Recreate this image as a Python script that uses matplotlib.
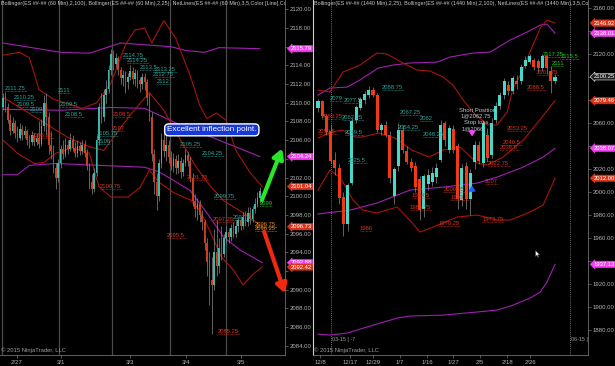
import matplotlib
matplotlib.use("Agg")
import matplotlib.pyplot as plt
import matplotlib.transforms as mtransforms
from matplotlib.ticker import FixedFormatter

plt.rcParams['font.family'] = ['Liberation Sans', 'DejaVu Sans']

# ---------------- 60 min chart (left) ----------------
l_first_open = 2109.5
l_close = [2110.5, 2109.5, 2108.2, 2107, 2107.8, 2106.8, 2106.2, 2107.2, 2106.5, 2107,
           2106, 2105.8, 2106.5, 2105.8, 2106.2, 2105.6, 2107.5, 2110, 2108.5, 2105.5,
           2104.8, 2103, 2102, 2103.5, 2105, 2104.5, 2105.5, 2105, 2106, 2105.2,
           2104.6, 2105.4, 2104.8, 2105.5, 2104.6, 2103.2, 2101.5, 2100.8, 2102.5, 2106,
           2109.5, 2108.5, 2110.8, 2111.5, 2113.5, 2115.2, 2114.2, 2114.8, 2113.5, 2112.6,
           2113, 2112.2, 2112.8, 2113.4, 2112.5, 2113.2, 2112.4, 2112, 2112.8, 2112.2,
           2110.5, 2108.5, 2104.5, 2101.5, 2100, 2103.5, 2106, 2104.8, 2105.5, 2104.2,
           2103.2, 2104, 2103, 2103.8, 2102.6, 2103.6, 2104.4, 2103.8, 2102, 2099.5,
           2098.6, 2099.2, 2098, 2097.2, 2095, 2093, 2091, 2090.5, 2094, 2092.5,
           2094.5, 2093.8, 2095.5, 2096.2, 2095.6, 2096.6, 2096, 2096.8, 2097.4, 2096.8,
           2097.8, 2097.2, 2098.2, 2097.6, 2098.6, 2099.2, 2099.8, 2100.6]
l_high = [2111, 2111.2, 2110, 2108.8, 2108.5, 2108.2, 2107.5, 2107.8, 2107.6, 2107.5,
          2107.2, 2106.5, 2107, 2106.8, 2106.8, 2108, 2108.3, 2110.8, 2111, 2109,
          2107, 2105.5, 2103.5, 2104, 2105.5, 2106, 2106.2, 2106, 2106.8, 2106.5,
          2105.8, 2106, 2105.8, 2106, 2106, 2105, 2103.6, 2102.4, 2103, 2106.5,
          2110, 2111, 2111.5, 2112.4, 2114, 2115.8, 2115.6, 2115.3, 2115, 2113.8,
          2113.5, 2113.4, 2113.2, 2114, 2113.8, 2113.6, 2113.5, 2112.8, 2113.2, 2113.2,
          2112.5, 2111, 2109, 2105, 2102.5, 2104, 2106.8, 2107.5, 2106.5, 2106,
          2104.8, 2104.6, 2104.4, 2104.5, 2104.2, 2104, 2105, 2104.8, 2104.2, 2102.5,
          2100.2, 2099.8, 2099.6, 2098.5, 2097.6, 2095.5, 2094, 2093.5, 2096.5, 2097.5,
          2095.5, 2096.8, 2096, 2096.8, 2096.6, 2097, 2097.2, 2097.4, 2097.8, 2097.8,
          2098.3, 2098.4, 2098.8, 2098.8, 2099, 2099.8, 2100.4, 2101]
l_low = [2109.2, 2109, 2107.8, 2106.5, 2106.8, 2106.2, 2105.8, 2106, 2106, 2106.2,
         2105.5, 2105.2, 2105.5, 2105.4, 2105.5, 2105.2, 2105.4, 2107, 2106.5, 2104.5,
         2104, 2102.5, 2100.8, 2101.5, 2103, 2104, 2104.2, 2104.5, 2104.8, 2104.8,
         2104.2, 2104.2, 2104.4, 2104.5, 2104.2, 2102.8, 2100.8, 2100.2, 2100.4, 2102.2,
         2105.5, 2107.8, 2108, 2110, 2111, 2113, 2113.5, 2113.8, 2113, 2112,
         2111.8, 2111, 2111.5, 2112.4, 2112, 2111.8, 2111.6, 2111.2, 2111.5, 2111.4,
         2109.8, 2108, 2103.8, 2100.2, 2098.5, 2099.5, 2103, 2104.2, 2103.8, 2103.5,
         2102.8, 2102.6, 2102.4, 2102.5, 2102, 2102.2, 2103.2, 2103.2, 2101.5, 2099,
         2097.8, 2097.5, 2097.2, 2096.4, 2094.2, 2091.5, 2088.4, 2085.3, 2090, 2091.5,
         2091.8, 2093.2, 2093.5, 2095, 2095, 2095.2, 2095.6, 2095.6, 2096.2, 2096.4,
         2096.5, 2096.8, 2096.8, 2097, 2097.2, 2098.2, 2098.8, 2099.3]

# Bollinger (2,100) - purple, knots as (bar index, price)
l_bb100_up_x = [0, 24, 36, 49, 70, 76, 84, 90, 107]
l_bb100_up_y = [2116.4, 2115.4, 2115.3, 2116.4, 2116.0, 2115.6, 2115.4, 2115.9, 2115.79]
l_bb100_mid_x = [0, 24, 45, 59, 74, 88, 107]
l_bb100_mid_y = [2109.3, 2109.2, 2109.5, 2109.4, 2107.6, 2106.2, 2104.24]
l_bb100_lo_x = [0, 6, 11, 22, 40, 59, 65, 71, 78, 85, 92, 99, 108]
l_bb100_lo_y = [2102.3, 2102.3, 2103.3, 2103.5, 2103.3, 2103.1, 2102.6, 2101.7, 2100.6,
                2098.2, 2095.6, 2094.2, 2092.9]
# Bollinger (2,25) - dark red
l_bb25_up_x = [0, 7, 11, 15, 21, 33, 39, 45, 51, 55, 59, 62, 67, 72, 78, 82, 85, 89, 93, 97, 103, 108]
l_bb25_up_y = [2115.1, 2115.4, 2114.8, 2111.4, 2110.4, 2109.4, 2110.0, 2112.1, 2116.2, 2117.8,
               2118.0, 2116.4, 2118.8, 2116.9, 2112.9, 2109.7, 2108.3, 2108.9, 2108.1, 2104.9,
               2102.5, 2101.04]
l_bb25_mid_x = [0, 7, 15, 27, 36, 42, 53, 61, 67, 74, 80, 86, 92, 99, 108]
l_bb25_mid_y = [2110.6, 2109.5, 2108.2, 2106.3, 2105.3, 2104.9, 2108.7, 2111.1, 2109.2,
                2106.0, 2103.3, 2101.2, 2099.5, 2098.4, 2096.73]
l_bb25_lo_x = [0, 6, 13, 17, 22, 29, 36, 40, 45, 52, 57, 61, 65, 71, 78, 82, 86, 91, 96, 100, 104, 108]
l_bb25_lo_y = [2106.0, 2104.6, 2103.5, 2103.6, 2104.6, 2105.2, 2104.6, 2101.0, 2099.9, 2099.9,
               2100.9, 2102.8, 2101.5, 2100.4, 2099.6, 2098.5, 2096.4, 2093.5, 2092.1, 2090.5,
               2091.6, 2092.42]

l_session_breaks = [-0.3, 23.5, 45.5, 69.5, 93]
l_date_pos = [5.8, 24.2, 52.9, 76.2, 99.2]
l_date_lbl = ['2/27', '3/1', '3/3', '3/4', '3/5']

# NetLines labels: (bar index, price, text, colour key)
l_lines = [(0.8, 2111.25, '2111.25', 't'), (4.6, 2110.25, '2110.25', 't'), (5.8, 2109.5, '2109.5', 't'),
           (11.2, 2109, '2109', 't'), (22.9, 2111, '2111', 't'), (23.8, 2109.5, '2109.5', 't'),
           (25.8, 2108.5, '2108.5', 't'), (50.0, 2114.75, '2114.75', 't'), (51.7, 2114.25, '2114.25', 't'),
           (57.0, 2113.5, '2113.5', 't'), (63.3, 2113.25, '2113.25', 't'), (62.5, 2112.75, '2112.75', 't'),
           (64.0, 2112, '2112', 't'), (39.0, 2106.4, '2105.75', 't'), (39.6, 2105.6, '2106', 't'),
           (73.8, 2105.25, '2105.25', 't'), (83.0, 2104.25, '2104.25', 't'), (88.0, 2099.75, '2099.75', 't'),
           (95.8, 2097.5, '2097.5', 't'),
           (45.8, 2108.5, '2108.5', 'r'), (45.4, 2107, '2107', 'r'), (12.0, 2106.25, '2106.25', 'r'),
           (76.7, 2101.75, '2101.75', 'r'), (40.4, 2100.75, '2100.75', 'r'), (87.5, 2097.25, '2097.25', 'r'),
           (68.3, 2095.5, '2095.5', 'r'), (89.6, 2085.25, '2085.25', 'r'),
           (105.0, 2096.75, '2096.75', 'o'), (105.0, 2096.25, '2096.25', 'o'), (107.0, 2099, '2099', 'g')]
l_tags = [('2115.79', 2115.79, 'm'), ('2104.24', 2104.24, 'm'), ('2101.04', 2101.04, 'r'),
          ('2096.73', 2096.73, 'r'), ('2092.88', 2092.88, 'm'), ('2092.42', 2092.42, 'r')]

# ---------------- daily chart (right) ----------------
r_open = [2073, 2079, 2066, 2053, 2028, 2021, 1996, 1972, 2008, 2063, 2073, 2080, 2084, 2089,
          2084, 2054, 2058, 2050, 1997, 2023, 2054, 2036, 2026, 2023, 2011, 1985, 2007, 2009,
          2013, 2028, 2060, 2037, 2055, 2040, 1993, 2023, 1994, 2026, 2041, 2025, 2050, 2032,
          2063, 2075, 2084, 2093, 2088, 2097, 2097, 2110, 2113, 2115, 2114, 2108, 2118, 2105, 2097]
r_high = [2081, 2080, 2068, 2058, 2035, 2024, 2000, 2008, 2064, 2076, 2083, 2088, 2092, 2091,
          2086, 2060, 2062, 2053, 2022, 2060, 2058, 2040, 2030, 2026, 2014, 2016, 2020, 2022,
          2025, 2063, 2062, 2058, 2058, 2043, 2024, 2026, 2020, 2044, 2044, 2063, 2056, 2064,
          2078, 2087, 2099, 2097, 2101, 2102, 2111, 2118, 2120, 2117, 2116, 2120, 2119, 2110, 2103]
r_low = [2070, 2064, 2050, 2025, 2015, 1990, 1962, 1966, 2006, 2060, 2071, 2077, 2082, 2083,
         2052, 2050, 2048, 2008, 1990, 2018, 2034, 2024, 2018, 2000, 1976, 1978, 2002, 2005,
         2008, 2026, 2040, 2034, 2034, 1985, 1988, 1985, 1980, 2020, 2024, 2022, 2026, 2030,
         2060, 2072, 2081, 2084, 2085, 2090, 2094, 2108, 2111, 2106, 2104, 2105, 2103, 2086, 2094]
r_close = [2079, 2066, 2052, 2027, 2021, 1995, 1972, 2006, 2062, 2074, 2081, 2085, 2089, 2084,
           2054, 2058, 2050, 2012, 2020, 2054, 2037, 2026, 2021, 2004, 1984, 2014, 2015, 2017,
           2021, 2058, 2045, 2056, 2037, 1994, 2021, 1994, 2017, 2041, 2027, 2060, 2030, 2060,
           2075, 2084, 2097, 2088, 2099, 2094, 2109, 2115, 2118, 2109, 2108, 2118, 2108, 2097, 2100.25]

r_bb100_up_x = [0, 2.8, 6.9, 9.9, 14.2, 17.7, 21.7, 28.1, 31.2, 36.6, 40.7, 45.4, 49.4, 52.5, 54.1, 56]
r_bb100_up_y = [2084.3, 2090.4, 2091.3, 2097.4, 2107.8, 2110.4, 2112.2, 2113.0, 2117.4, 2120.9,
                2121.7, 2132.2, 2139.1, 2145.2, 2146.1, 2138.01]
r_bb100_mid_x = [0, 7.6, 13.9, 21.7, 29.6, 37.6, 42.3, 48.5, 53.2, 56]
r_bb100_mid_y = [1980.9, 1984.3, 1990.4, 2001.7, 2004.3, 2007.8, 2013.0, 2021.7, 2030.4, 2038.07]
r_bb100_lo_x = [0, 2.8, 6.9, 13, 18.7, 21.7, 29.6, 37.6, 42.3, 46.1, 50.1, 52.5, 54.1, 56]
r_bb100_lo_y = [1876.5, 1875.7, 1877.4, 1884.3, 1890.4, 1892.2, 1893.0, 1895.7, 1897.4, 1901.7,
                1907.8, 1913.0, 1921.7, 1937.13]
r_bb25_up_x = [0, 2.8, 5.9, 9.9, 13.9, 16.3, 20.1, 23.4, 26.5, 29.6, 31.9, 34.3, 36.6, 40, 42.3,
               44.7, 46.1, 47.8, 50.1, 52.5, 54.1, 56]
r_bb25_up_y = [2088.7, 2087.0, 2104.3, 2110.4, 2120.9, 2120.0, 2112.2, 2106.1, 2105.2, 2100.0,
               2093.0, 2080.0, 2069.6, 2058.3, 2058.3, 2069.6, 2090.4, 2101.7, 2121.7, 2142.6,
               2149.6, 2146.92]
r_bb25_mid_x = [0, 3.3, 5.7, 8.7, 10.4, 14.4, 18.2, 22.2, 26.2, 29.6, 33.6, 37.6, 40, 43.7, 48.5, 51.8, 56]
r_bb25_mid_y = [2047.0, 2052.2, 2053.9, 2047.8, 2047.8, 2051.3, 2047.0, 2036.5, 2030.4, 2036.5,
                2039.1, 2025.2, 2023.5, 2030.4, 2045.2, 2060.0, 2079.46]
r_bb25_lo_x = [0, 2.8, 5.2, 8.3, 10.6, 13.9, 18.7, 21, 24.1, 27.2, 32.9, 37.6, 42.3, 45.4, 50.1,
               53.2, 56]
r_bb25_lo_y = [2001.7, 2019.0, 2013.0, 1993.0, 1984.3, 1981.7, 1987.0, 1978.3, 1965.2, 1969.6,
               1978.3, 1980.0, 1975.7, 1975.7, 1982.6, 1988.7, 2012.0]

r_rollover = [3.1, 59.6]
r_rollover_lbl = ['03-15 | -7', '06-15 |']
r_date_pos = [0.5, 7.6, 13.0, 19.4, 25.8, 31.9, 38.3, 44.7, 50.1]
r_date_lbl = ['12/8', '12/17', '12/29', '1/7', '1/16', '1/27', '2/5', '2/18', '2/26']

r_lines = [(15.1, 2088.75, '2088.75', 't'), (2.8, 2079, '2079', 't'), (6.0, 2077.5, '2077.5', 't'),
           (5.7, 2062.25, '2062.25', 't'), (19.4, 2067.25, '2067.25', 't'), (24.1, 2062, '2062', 't'),
           (18.9, 2054.25, '2054.25', 't'), (24.8, 2048.25, '2048.25', 't'), (6.4, 2049.5, '2049.5', 't'),
           (7.1, 2025.5, '2025.5', 't'),
           (0.9, 2063.25, '2063.25', 'r'), (0.0, 2050.5, '2050.5', 'r'), (44.7, 2053.25, '2053.25', 'r'),
           (43.7, 2040.5, '2040.5', 'r'), (43.0, 2037.0, '2038.5', 'r'), (40.2, 2022.75, '2022.75', 'r'),
           (39.5, 2007, '2007', 'r'), (22.2, 1994.5, '1994.5', 'r'), (21.7, 1984.75, '1984.75', 'r'),
           (9.9, 1966, '1966', 'r'), (28.4, 1970.25, '1970.25', 'r'), (38.8, 1973.75, '1973.75', 'r'),
           (29.6, 2000.25, '2000.25', 'r'), (31.2, 1993.5, '1993.5', 'r'), (49.4, 2088.5, '2088.5', 'r'),
           (51.8, 2101.75, '2101.75', 'r'),
           (53.0, 2117.25, '2117.25', 'g'), (57.3, 2115.5, '2115.5', 'g'), (55.3, 2110.0, '2111', 'g')]
r_tags = [('2146.92', 2146.92, 'r'), ('2138.01', 2138.01, 'm'), ('2100.25', 2100.25, 'k'),
          ('2079.46', 2079.46, 'r'), ('2038.07', 2038.07, 'm'), ('2012.00', 2012.00, 'r'),
          ('1937.13', 1937.13, 'm')]
r_cursor = (51.3, 1950)

C = {'t': '#2fa59b', 'r': '#d8361c', 'o': '#e8901c', 'g': '#22d022', 'm': '#f040f0', 'k': '#202020'}
PURPLE = '#a020b0'
DRED = '#a8140e'
GRAY = '#b4b4b4'

fig = plt.figure(figsize=(6.15, 3.66), dpi=100, facecolor='black')
axL = fig.add_axes([0.0, 0.030, 285 / 615, 0.970])
axR = fig.add_axes([313 / 615, 0.030, 275 / 615, 0.970])


def style(ax):
    ax.set_facecolor('black')
    for s in ['top', 'left']:
        ax.spines[s].set_visible(False)
    for s in ['right', 'bottom']:
        ax.spines[s].set_color('#707070')
        ax.spines[s].set_linewidth(0.6)
    ax.yaxis.tick_right()
    ax.tick_params(axis='both', colors='#707070', labelcolor=GRAY, labelsize=4.3,
                   length=2, width=0.5, pad=1.5)


def price_ticks(ax, ticks, tag_list, gap):
    # tick labels that sit under a price tag are hidden, as on the screen
    ax.set_yticks(ticks)
    lbls = []
    for t in ticks:
        hidden = any(abs(t - v) < gap for _, v, _ in tag_list)
        lbls.append('' if hidden else '%.2f' % t)
    ax.yaxis.set_major_formatter(FixedFormatter(lbls))


def candles(ax, o, h, l, c, w, up, dn, wick):
    xs = range(len(c))
    ax.vlines(xs, l, h, color=wick, lw=0.5, zorder=3)
    for i in xs:
        lo, hi = min(o[i], c[i]), max(o[i], c[i])
        col = up if c[i] >= o[i] else dn
        ax.bar(i, max(hi - lo, 0.15), bottom=lo, width=w, color=col, lw=0, zorder=4)


def netlines(ax, items, per_char):
    for x, v, s, k in items:
        ax.text(x, v, s, color=C[k], fontsize=4.2, ha='left', va='bottom', zorder=6, clip_on=True)
        ax.plot([x, x + len(s) * per_char], [v, v], color=C[k], lw=0.5, ls=(0, (1, 1)), zorder=6)


def tags(ax, items):
    tr = mtransforms.blended_transform_factory(ax.transAxes, ax.transData)
    for s, v, k in items:
        ec = 'white' if k == 'k' else C[k]
        ax.text(1.02, v, s, transform=tr, fontsize=4.2, color='white', ha='left', va='center',
                zorder=20, clip_on=False,
                bbox=dict(boxstyle='larrow,pad=0.12', fc=C[k], ec=ec, lw=0.4))


# ---- left panel ----
style(axL)
l_open = [l_first_open] + l_close[:-1]
for b in l_session_breaks:
    axL.axvline(b, color='#4a4a4a', lw=0.9, zorder=1)
axL.plot(l_bb100_up_x, l_bb100_up_y, color=PURPLE, lw=0.8, zorder=2)
axL.plot(l_bb100_mid_x, l_bb100_mid_y, color=PURPLE, lw=0.8, zorder=2)
axL.plot(l_bb100_lo_x, l_bb100_lo_y, color=PURPLE, lw=0.8, zorder=2)
axL.plot(l_bb25_up_x, l_bb25_up_y, color=DRED, lw=0.8, zorder=2)
axL.plot(l_bb25_mid_x, l_bb25_mid_y, color=DRED, lw=0.8, zorder=2)
axL.plot(l_bb25_lo_x, l_bb25_lo_y, color=DRED, lw=0.8, zorder=2)
candles(axL, l_open, l_high, l_low, l_close, 0.7, '#3cb8aa', '#c8401e', '#8a8a8a')
axL.set_xlim(-1.25, 117.5)
axL.set_ylim(2083.0, 2121.0)
price_ticks(axL, list(range(2084, 2121, 2)), l_tags, 0.6)
axL.set_xticks(l_date_pos)
axL.set_xticklabels(l_date_lbl)
netlines(axL, l_lines, 3.1 / 2.4)
tags(axL, l_tags)
axL.text(0.003, 0.998, 'Bollinger(ES ##-## (60 Min),2,100), Bollinger(ES ##-## (60 Min),2,25), '
         'NetLines(ES ##-## (60 Min),3,5,Color [Line],Color [Dash]', transform=axL.transAxes,
         fontsize=3.85, color='#c8c8c8', ha='left', va='top', clip_on=True)
axL.text(0.003, 0.006, '\u00a9 2015 NinjaTrader, LLC', transform=axL.transAxes,
         fontsize=4.2, color='#a0a0a0', ha='left', va='bottom')
axL.text(87, 2107.1, 'Excellent inflection point.', color='white', fontsize=5.9, ha='center',
         va='center', zorder=15,
         bbox=dict(boxstyle='round,pad=0.3,rounding_size=0.5', fc='#1638d8', ec='white', lw=1.0))
axL.annotate('', xy=(116.3, 2105.1), xytext=(107.9, 2099.6), zorder=15, annotation_clip=False,
             arrowprops=dict(arrowstyle='-|>,head_length=0.55,head_width=0.32', color='#28e628',
                             lw=3.0, shrinkA=0, shrinkB=0))
axL.annotate('', xy=(117.5, 2089.6), xytext=(108.8, 2096.2), zorder=15, annotation_clip=False,
             arrowprops=dict(arrowstyle='-|>,head_length=0.55,head_width=0.32', color='#f0280e',
                             lw=3.0, shrinkA=0, shrinkB=0))

# ---- right panel ----
style(axR)
axR.spines['left'].set_visible(True)
axR.spines['left'].set_color('#d0d0d0')
axR.spines['left'].set_linewidth(0.8)
axR.plot(r_bb100_up_x, r_bb100_up_y, color=PURPLE, lw=0.8, zorder=2)
axR.plot(r_bb100_mid_x, r_bb100_mid_y, color=PURPLE, lw=0.8, zorder=2)
axR.plot(r_bb100_lo_x, r_bb100_lo_y, color=PURPLE, lw=0.8, zorder=2)
axR.plot(r_bb25_up_x, r_bb25_up_y, color=DRED, lw=0.8, zorder=2)
axR.plot(r_bb25_mid_x, r_bb25_mid_y, color=DRED, lw=0.8, zorder=2)
axR.plot(r_bb25_lo_x, r_bb25_lo_y, color=DRED, lw=0.8, zorder=2)
candles(axR, r_open, r_high, r_low, r_close, 0.72, '#46d8c8', '#f03a16', '#8a8a8a')
axR.set_xlim(-1.18, 63.8)
axR.set_ylim(1858.3, 2167.0)
for b, s in zip(r_rollover, r_rollover_lbl):
    axR.axvline(b, color='#9a9a9a', lw=0.6, ls=(0, (1, 1.5)), zorder=1)
    axR.text(b + 0.3, 1871.5, s, color='#a0a0a0', fontsize=3.9, ha='left', va='center', clip_on=True)
price_ticks(axR, list(range(1880, 2161, 20)), r_tags, 6.0)
axR.set_xticks(r_date_pos)
axR.set_xticklabels(r_date_lbl)
netlines(axR, r_lines, 3.1 / 4.23)
tags(axR, r_tags)
axR.text(0.003, 0.998, 'Bollinger(ES ##-## (1440 Min),2,25), Bollinger(ES ##-## (1440 Min),2,100), '
         'NetLines(ES ##-## (1440 Min),3,5,Color [Line]', transform=axR.transAxes,
         fontsize=3.85, color='#c8c8c8', ha='left', va='top', clip_on=True)
axR.text(0.003, 0.006, '\u00a9 2015 NinjaTrader, LLC', transform=axR.transAxes,
         fontsize=4.2, color='#a0a0a0', ha='left', va='bottom')
axR.text(33.4, 2071.3, 'Short Position', color='#b8c8c8', fontsize=4.2, ha='left', va='center', zorder=7)
axR.text(33.6, 2066.0, '1@2062.75', color='#b8c8c8', fontsize=4.2, ha='left', va='center', zorder=7)
axR.text(34.4, 2060.9, 'Stop loss', color='#b8c8c8', fontsize=4.2, ha='left', va='center', zorder=7)
axR.text(34.0, 2054.8, '1@2066', color='#b8c8c8', fontsize=4.2, ha='left', va='center', zorder=7)
axR.annotate('', xy=(36.4, 2046), xytext=(36.4, 2056), zorder=8,
             arrowprops=dict(arrowstyle='-|>,head_length=0.3,head_width=0.2', color='#ff40ff', lw=1.0))
axR.annotate('', xy=(36.4, 2008), xytext=(36.4, 1998), zorder=8,
             arrowprops=dict(arrowstyle='-|>,head_length=0.3,head_width=0.2', color='#2060ff', lw=1.0))
cursor_shape = [(0, 0), (0, -11), (2.6, -8.4), (4.6, -12.5), (6, -11.8), (4.1, -7.8), (7.8, -7.8), (0, 0)]
axR.plot(*r_cursor, marker=cursor_shape, markersize=10, color='white', mec='#202020', mew=0.3, zorder=9)

fig.savefig('out.png', dpi=100, facecolor='black')
